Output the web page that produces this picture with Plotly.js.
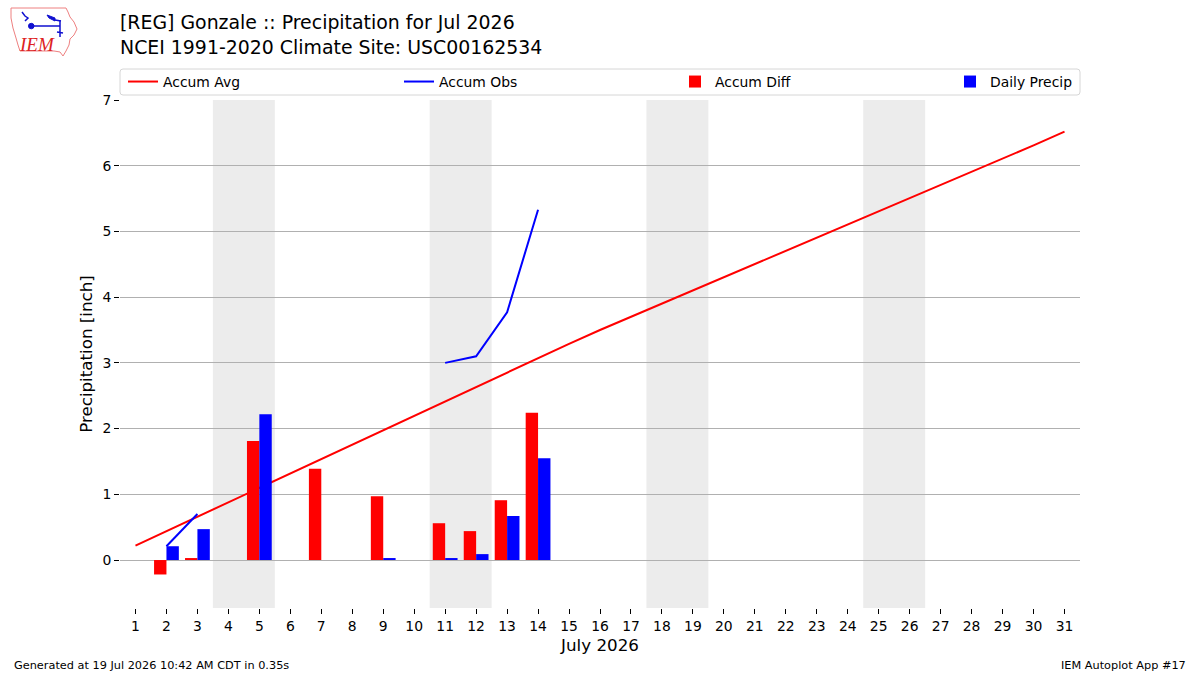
<!DOCTYPE html>
<html>
<head>
<meta charset="utf-8">
<script src="https://cdn.plot.ly/plotly-3.0.1.min.js"></script>
<style>
  html, body { margin: 0; padding: 0; background: #ffffff; }
  #chart { width: 1200px; height: 675px; }
</style>
</head>
<body>
<div id="chart"></div>
<script>
// Day of month for July 2026
const days = [1, 2, 3, 4, 5, 6, 7, 8, 9, 10, 11, 12, 13, 14, 15, 16,
              17, 18, 19, 20, 21, 22, 23, 24, 25, 26, 27, 28, 29, 30, 31];
const dayLabels = days.map(String);

// Climatological accumulated precipitation [inch]
const accumAvg = [0.22, 0.44, 0.66, 0.88, 1.10, 1.32, 1.54, 1.76, 1.98, 2.20,
                  2.42, 2.64, 2.86, 3.08, 3.29, 3.50, 3.70, 3.90, 4.11, 4.31,
                  4.51, 4.71, 4.91, 5.11, 5.30, 5.50, 5.70, 5.90, 6.11, 6.31, 6.52];

// Observed accumulated precipitation (gaps where the record is incomplete)
const accumObs = [null, 0.21, 0.70, null, null, null, null, null, null, null,
                  3.00, 3.10, 3.77, 5.33, null, null, null, null, null, null,
                  null, null, null, null, null, null, null, null, null, null, null];

// Observed minus climatology
const accumDiff = [null, -0.22, 0.03, null, 1.81, null, 1.39, null, 0.97, null,
                   0.56, 0.44, 0.91, 2.24, null, null, null, null, null, null,
                   null, null, null, null, null, null, null, null, null, null, null];

// Daily observed precipitation
const dailyPrecip = [null, 0.21, 0.47, null, 2.22, null, null, null, 0.03, null,
                     0.03, 0.09, 0.67, 1.55, null, null, null, null, null, null,
                     null, null, null, null, null, null, null, null, null, null, null];

// Saturdays of the month (weekend bands span Sat + Sun)
const weekendStarts = [4, 11, 18, 25];

const FONT = 'DejaVu Sans, Verdana, sans-serif';

// plot area in pixels
const M = { l: 120, r: 120, t: 100, b: 67 };
const W = 1200, H = 675;
const PW = W - M.l - M.r, PH = H - M.t - M.b;
const px = (x) => (x - M.l) / PW;
const py = (y) => (H - M.b - y) / PH;
const pt = (x, y) => px(x).toFixed(5) + ',' + py(y).toFixed(5);

const traces = [
  {
    type: 'scatter', mode: 'lines', name: 'Accum Avg',
    x: days, y: accumAvg,
    line: { color: '#ff0000', width: 2 },
    zorder: 0, hoverinfo: 'skip', legend: 'legend'
  },
  {
    type: 'scatter', mode: 'lines', name: 'Accum Obs',
    x: days, y: accumObs, connectgaps: false,
    line: { color: '#0000ff', width: 2 },
    zorder: 0, hoverinfo: 'skip', legend: 'legend'
  },
  {
    type: 'bar', name: 'Accum Diff',
    x: days, y: accumDiff, offset: -0.4, width: 0.4,
    marker: { color: '#ff0000', line: { width: 0 } },
    zorder: 1, hoverinfo: 'skip', legend: 'legend'
  },
  {
    type: 'bar', name: 'Daily Precip',
    x: days, y: dailyPrecip, offset: 0, width: 0.4,
    marker: { color: '#0000ff', line: { width: 0 } },
    zorder: 1, hoverinfo: 'skip', legend: 'legend2'
  }
];

const shapes = weekendStarts.map(d => ({
  type: 'rect', xref: 'x', yref: 'paper', layer: 'below',
  x0: d - 0.5, x1: d + 1.5, y0: 0, y1: 1,
  fillcolor: '#ececec', line: { width: 0 }
}));

// legend frame
(function () {
  const x0 = 120, x1 = 1080, y0 = 69, y1 = 95, r = 3;
  const path = 'M' + pt(x0 + r, y0) + ' L' + pt(x1 - r, y0) +
    ' Q' + pt(x1, y0) + ' ' + pt(x1, y0 + r) +
    ' L' + pt(x1, y1 - r) + ' Q' + pt(x1, y1) + ' ' + pt(x1 - r, y1) +
    ' L' + pt(x0 + r, y1) + ' Q' + pt(x0, y1) + ' ' + pt(x0, y1 - r) +
    ' L' + pt(x0, y0 + r) + ' Q' + pt(x0, y0) + ' ' + pt(x0 + r, y0) + ' Z';
  shapes.push({ type: 'path', xref: 'paper', yref: 'paper', path: path, layer: 'below',
    fillcolor: 'rgba(255,255,255,0.8)', line: { color: '#d6d6d6', width: 1 } });
})();

// IEM logo: state outline and weather vane
shapes.push({
  type: 'path', xref: 'paper', yref: 'paper',
  path: 'M' + pt(11, 8) + ' L' + pt(66, 8) + ' L' + pt(68, 12) + ' L' + pt(70, 17) +
    ' L' + pt(74, 22) + ' L' + pt(77, 29) + ' L' + pt(74, 35) + ' L' + pt(70, 39) +
    ' L' + pt(69, 45) + ' L' + pt(66, 51) + ' L' + pt(63, 56) + ' L' + pt(60, 52) +
    ' L' + pt(54, 51) + ' L' + pt(20, 51) + ' L' + pt(18, 45) + ' L' + pt(16, 38) +
    ' L' + pt(13, 28) + ' L' + pt(11, 18) + ' Z',
  fillcolor: 'rgba(0,0,0,0)', line: { color: '#ee8080', width: 1 }
});
shapes.push({
  type: 'path', xref: 'paper', yref: 'paper',
  path: 'M' + pt(31, 26) + ' L' + pt(60, 26) + ' M' + pt(60, 20) + ' L' + pt(60, 37) +
    ' M' + pt(22, 12) + ' L' + pt(25, 16) + ' L' + pt(28, 18) + ' L' + pt(25, 21) +
    ' M' + pt(55, 20) + ' L' + pt(61, 21) + ' M' + pt(57, 32) + ' L' + pt(63, 33),
  fillcolor: 'rgba(0,0,0,0)', line: { color: '#1010d0', width: 1.5 }
});
shapes.push({
  type: 'path', xref: 'paper', yref: 'paper',
  path: 'M' + pt(47, 15) + ' L' + pt(55, 18) + ' L' + pt(55, 21) + ' L' + pt(49, 18) + ' Z',
  fillcolor: '#1010d0', line: { color: '#1010d0', width: 1 }
});
shapes.push({
  type: 'circle', xref: 'paper', yref: 'paper',
  x0: px(28.5), x1: px(34), y0: py(28.8), y1: py(23.3),
  fillcolor: '#1010d0', line: { color: '#1010d0', width: 1 }
});

const annotations = [
  {
    xref: 'paper', yref: 'paper', x: px(37), y: py(45), xanchor: 'center', yanchor: 'middle',
    text: '<i>IEM</i>', showarrow: false,
    font: { family: 'Liberation Serif, DejaVu Serif, serif', size: 19, color: '#dd2222' }
  },
  {
    xref: 'paper', yref: 'paper', x: px(12), y: py(665), xanchor: 'left', yanchor: 'middle',
    text: 'Generated at 19 Jul 2026 10:42 AM CDT in 0.35s', showarrow: false,
    font: { family: FONT, size: 11.3, color: '#000' }
  },
  {
    xref: 'paper', yref: 'paper', x: px(1188), y: py(665), xanchor: 'right', yanchor: 'middle',
    text: 'IEM Autoplot App #17', showarrow: false,
    font: { family: FONT, size: 11.3, color: '#000' }
  }
];

const legendCommon = {
  orientation: 'h', xref: 'paper', yref: 'paper',
  xanchor: 'left', y: py(82), yanchor: 'middle',
  bgcolor: 'rgba(0,0,0,0)', borderwidth: 0,
  traceorder: 'normal',
  font: { family: FONT, size: 13.9, color: '#000' }
};

const layout = {
  width: W, height: H,
  margin: M,
  paper_bgcolor: '#ffffff', plot_bgcolor: '#ffffff',
  font: { family: FONT, size: 13.9, color: '#000' },
  showlegend: true,
  barmode: 'overlay',
  title: {
    text: '[REG] Gonzale :: Precipitation for Jul 2026<br>NCEI 1991-2020 Climate Site: USC00162534',
    xref: 'container', x: 0.1, xanchor: 'left',
    yref: 'container', y: 1 - 29 / 675, yanchor: 'top',
    font: { family: FONT, size: 18.9, color: '#000' }
  },
  legend: Object.assign({}, legendCommon, {
    x: px(123), entrywidth: 231, entrywidthmode: 'pixels'
  }),
  legend2: Object.assign({}, legendCommon, {
    x: px(950)
  }),
  xaxis: {
    range: [0.5, 31.5],
    tickmode: 'array', tickvals: days, ticktext: dayLabels,
    ticks: 'outside', ticklen: 5, tickwidth: 1, tickcolor: '#000',
    showline: true, linecolor: '#000', linewidth: 1, mirror: true,
    showgrid: false, zeroline: false,
    tickfont: { family: FONT, size: 13.9, color: '#000' },
    title: { text: 'July 2026', standoff: 6, font: { family: FONT, size: 16.7, color: '#000' } }
  },
  yaxis: {
    range: [-0.73, 7],
    tickmode: 'linear', tick0: 0, dtick: 1,
    ticks: 'outside', ticklen: 5, tickwidth: 1, tickcolor: '#000',
    showline: true, linecolor: '#000', linewidth: 1, mirror: true,
    showgrid: true, gridcolor: '#b0b0b0', gridwidth: 1, zeroline: false,
    tickfont: { family: FONT, size: 13.9, color: '#000' },
    title: { text: 'Precipitation [inch]', standoff: 5, font: { family: FONT, size: 16.7, color: '#000' } }
  },
  shapes: shapes,
  annotations: annotations
};

Plotly.newPlot('chart', traces, layout, { displayModeBar: false, staticPlot: true });
</script>
</body>
</html>
